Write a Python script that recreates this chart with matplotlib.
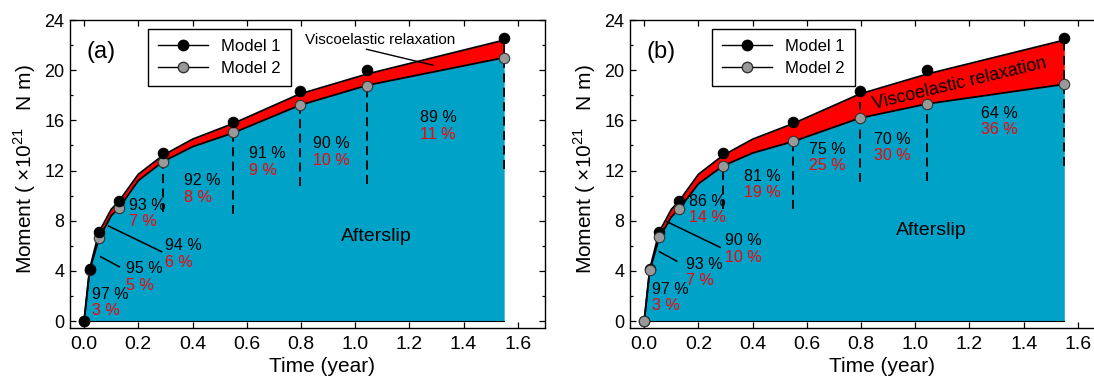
import numpy as np
import matplotlib
matplotlib.use('Agg')
from matplotlib import pyplot as plt

plt.rcParams['font.family'] = ['Liberation Sans', 'DejaVu Sans']
plt.rcParams['mathtext.fontset'] = 'custom'
plt.rcParams['mathtext.rm'] = 'Liberation Sans'

# sampling times (year) and moments (x1e21 N m)
t_obs = [0.0, 0.02, 0.055, 0.13, 0.29, 0.55, 0.795, 1.045, 1.55]
model1 = [0.0, 4.12, 7.1, 9.6, 13.4, 15.9, 18.38, 20.05, 22.55]
model2_a = [0.0, 4.1, 6.66, 9.05, 12.7, 15.04, 17.24, 18.78, 21.0]
model2_b = [0.0, 4.1, 6.7, 8.97, 12.36, 14.32, 16.18, 17.32, 18.88]

# boundary curves of the shaded areas
t_curve = [0.0, 0.02, 0.055, 0.1, 0.13, 0.2, 0.29, 0.4, 0.55, 0.795, 1.045, 1.55]
top_curve = [0.0, 4.1, 7.1, 8.9, 9.6, 11.7, 13.2, 14.5, 15.75, 18.1, 19.7, 22.4]
low_curve_a = [0.0, 4.0, 6.6, 8.4, 9.05, 11.2, 12.7, 13.9, 15.0, 17.2, 18.8, 21.0]
low_curve_b = [0.0, 4.0, 6.6, 8.3, 8.97, 10.95, 12.36, 13.4, 14.32, 16.18, 17.32, 18.88]

# dashed separators
t_dash = [0.29, 0.55, 0.795, 1.045, 1.55]
dash_top_a = [12.7, 15.0, 17.2, 18.8, 22.5]
dash_bot_a = [8.7, 8.55, 10.8, 10.95, 12.15]
dash_top_b = [12.36, 14.3, 17.5, 17.3, 22.5]
dash_bot_b = [8.97, 8.95, 11.1, 11.2, 12.4]

# percentage labels: afterslip (black) / viscoelastic (red)
pct_x = [0.03, 0.155, 0.298, 0.166, 0.368, 0.607, 0.846, 1.241]
after_a = ['97 %', '95 %', '94 %', '93 %', '92 %', '91 %', '90 %', '89 %']
visco_a = ['3 %', '5 %', '6 %', '7 %', '8 %', '9 %', '10 %', '11 %']
after_a_y = [2.15, 4.2, 6.0, 9.19, 11.18, 13.33, 14.12, 16.19]
visco_a_y = [0.82, 2.87, 4.68, 7.92, 9.83, 12.0, 12.8, 14.86]
after_b = ['97 %', '93 %', '90 %', '86 %', '81 %', '75 %', '70 %', '64 %']
visco_b = ['3 %', '7 %', '10 %', '14 %', '19 %', '25 %', '30 %', '36 %']
after_b_y = [2.5, 4.52, 6.4, 9.56, 11.56, 13.7, 14.5, 16.56]
visco_b_y = [1.26, 3.22, 5.07, 8.22, 10.23, 12.4, 13.17, 15.24]

# leader lines for the crowded early labels
lead_a = [((0.061, 0.13), (5.13, 4.33)), ((0.09, 0.286), (7.58, 5.53))]
lead_b = [((0.056, 0.12), (5.53, 4.78)), ((0.084, 0.28), (7.92, 5.88))]

blue = '#00A2C8'
red = '#FF0000'

fig = plt.figure(figsize=(10.94, 3.78), dpi=100)
axa = fig.add_axes([0.064, 0.133, 0.434, 0.814])
axb = fig.add_axes([0.576, 0.133, 0.434, 0.814])


def panel(ax, low, m2, dtop, dbot, after, visco, ay, vy, lead, tag, gray_on_top, leg_x):
    ax.fill_between(t_curve, 0, low, color=blue, lw=0, zorder=1)
    ax.fill_between(t_curve, low, top_curve, color=red, lw=0, zorder=1)
    ax.plot([t_curve[0], t_curve[-1]], [0, 0], color='k', lw=0.8, zorder=2)
    ax.plot(t_curve, top_curve, color='k', lw=1.3, zorder=2)
    ax.plot(t_curve, low, color='k', lw=1.3, zorder=2)
    for x, y0, y1 in zip(t_dash, dbot, dtop):
        ax.plot([x, x], [y0, y1], color='k', lw=1.3, ls=(0, (5, 3)), zorder=2)
    z1, z2 = (4, 5) if gray_on_top else (5, 4)
    ax.plot(t_obs, model1, 'o', color='k', ms=7.5, mec='k', mew=0.8, zorder=z1)
    ax.plot(t_obs, m2, 'o', color='#999999', ms=7.5, mec='#333333', mew=0.8, zorder=z2)
    # legend entries
    ax.plot([], [], '-o', color='k', ms=7.5, lw=1.0, label='Model 1')
    ax.plot([], [], '-o', color='k', mfc='#999999', mec='#333333', ms=7.5, lw=1.0, label='Model 2')
    leg = ax.legend(loc='upper left', bbox_to_anchor=(leg_x, 0.972), borderaxespad=0,
                    fontsize=12, handlelength=3.0, fancybox=False, framealpha=1,
                    edgecolor='k', borderpad=0.6, labelspacing=0.45, handletextpad=0.8)
    leg.get_frame().set_linewidth(1.0)
    for s, x, y in zip(after, pct_x, ay):
        ax.text(x, y, s, color='k', fontsize=11.5, ha='left', va='center', zorder=6)
    for s, x, y in zip(visco, pct_x, vy):
        ax.text(x, y, s, color=red, fontsize=11.5, ha='left', va='center', zorder=6)
    for xs, ys in lead:
        ax.plot(xs, ys, color='k', lw=1.1, zorder=3)
    ax.text(0.035, 0.895, tag, transform=ax.transAxes, fontsize=17, ha='left', va='center')
    ax.set_xlim(-0.052, 1.70)
    ax.set_ylim(-0.53, 24)
    ax.set_xticks(np.arange(0, 1.61, 0.2))
    ax.set_xticklabels(['%.1f' % v for v in np.arange(0, 1.61, 0.2)])
    ax.set_yticks(np.arange(0, 25, 4))
    ax.set_yticks(np.arange(2, 24, 4), minor=True)
    ax.tick_params(which='both', direction='in', top=True, right=True, width=0.9)
    ax.tick_params(which='major', length=4)
    ax.tick_params(which='minor', length=2.5)
    ax.tick_params(axis='x', labelsize=14, pad=6)
    ax.tick_params(axis='y', labelsize=13, pad=4)
    for sp in ax.spines.values():
        sp.set_linewidth(1.0)
    ax.set_xlabel('Time (year)', fontsize=15)
    ax.xaxis.set_label_coords(0.53, -0.095)
    ax.set_ylabel('Moment ( $\\times$10$^{21}$   N m)', fontsize=15)
    ax.yaxis.set_label_coords(-0.068, 0.515)


panel(axa, low_curve_a, model2_a, dash_top_a, dash_bot_a, after_a, visco_a,
      after_a_y, visco_a_y, lead_a, '(a)', False, 0.164)
panel(axb, low_curve_b, model2_b, dash_top_b, dash_bot_b, after_b, visco_b,
      after_b_y, visco_b_y, lead_b, '(b)', True, 0.172)

axa.text(0.814, 22.37, 'Viscoelastic relaxation', fontsize=11, ha='left', va='center')
axa.plot([1.042, 1.287], [21.67, 20.4], color='k', lw=1.0)
axa.text(1.077, 6.76, 'Afterslip', fontsize=14, ha='center', va='center')

axb.text(1.164, 18.95, 'Viscoelastic relaxation', fontsize=13, ha='center', va='center',
         rotation=13.5, rotation_mode='anchor', zorder=6)
axb.text(1.06, 7.23, 'Afterslip', fontsize=14, ha='center', va='center')

fig.savefig('out.png', dpi=100)
